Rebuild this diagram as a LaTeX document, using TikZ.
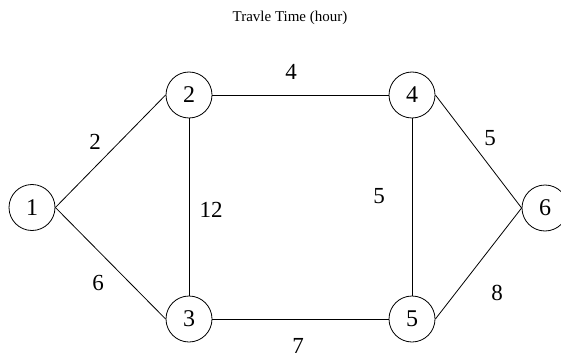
\documentclass[tikz,border=0pt]{standalone}
\usepackage{fontspec}
\setmainfont{Liberation Serif}
\begin{document}
\begin{tikzpicture}[x=1pt,y=-1pt,
  vertex/.style={draw,circle,line width=0.8pt,inner sep=0pt,minimum size=46pt,font=\fontsize{24}{26}\selectfont},
  edge/.style={line width=0.8pt},
  wlabel/.style={font=\fontsize{23}{26}\selectfont,inner sep=0pt}]
\useasboundingbox (0,0) rectangle (561,358);
\node[font=\fontsize{15}{18}\selectfont] (title) at (290,18) {Travle Time (hour)};
\node[vertex] (n1) at (32,207.5) {1};
\node[vertex] (n2) at (189,95) {2};
\node[vertex] (n3) at (189,319) {3};
\node[vertex] (n4) at (412,95) {4};
\node[vertex] (n5) at (412,319) {5};
\node[vertex] (n6) at (545,208) {6};
\draw[edge] (n1.east) -- (n2.west);
\draw[edge] (n1.east) -- (n3.west);
\draw[edge] (n2.south) -- (n3.north);
\draw[edge] (n2.east) -- (n4.west);
\draw[edge] (n3.east) -- (n5.west);
\draw[edge] (n4.south) -- (n5.north);
\draw[edge] (n4.east) -- (n6.west);
\draw[edge] (n5.east) -- (n6.west);
\node[wlabel] (l12) at (95,142) {2};
\node[wlabel] (l13) at (98,283) {6};
\node[wlabel] (l23) at (211,210) {12};
\node[wlabel] (l24) at (291,72) {4};
\node[wlabel] (l45) at (379,196) {5};
\node[wlabel] (l35) at (298,346) {7};
\node[wlabel] (l46) at (490,138) {5};
\node[wlabel] (l56) at (497,293) {8};
\end{tikzpicture}
\end{document}
